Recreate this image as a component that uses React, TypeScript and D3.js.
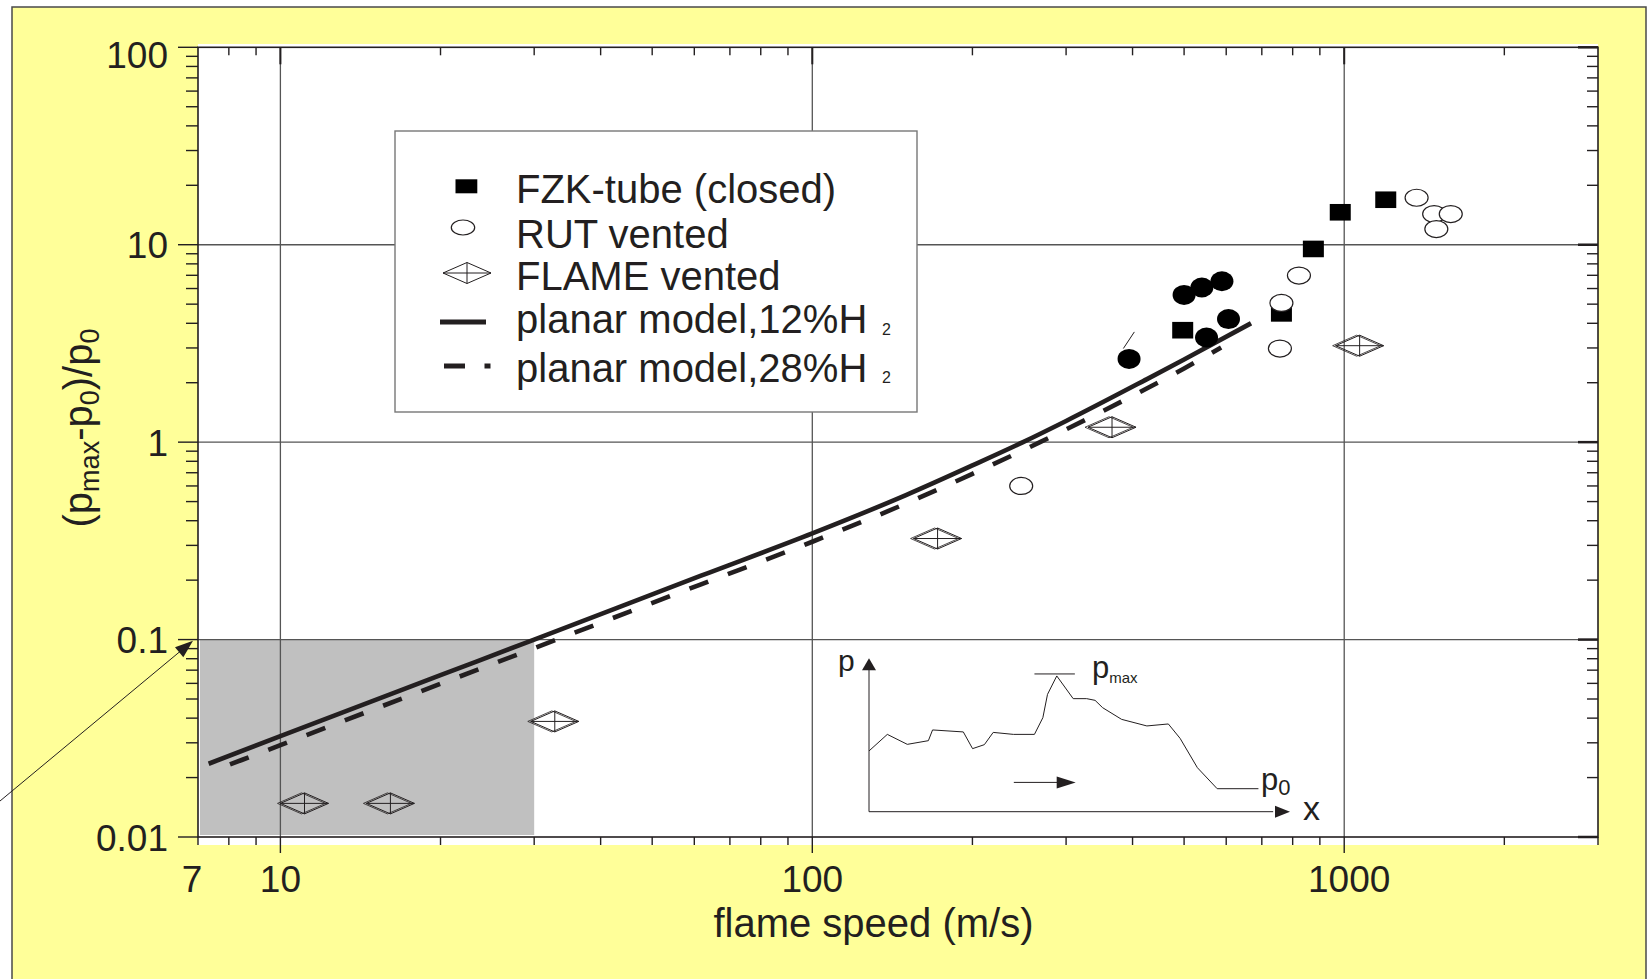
import React from 'react';
import * as d3 from 'd3';

// FZK-tube (closed), filled squares
const fzkSpeed = [497, 762, 875, 983, 1197];
const fzkPressure = [3.69, 4.49, 9.52, 14.6, 16.9];

// filled ellipses (not in the legend)
const solidDotSpeed = [394, 500, 540, 589, 606, 551];
const solidDotPressure = [2.64, 5.57, 6.07, 6.53, 4.2, 3.39];

// RUT vented, open circles
const rutSpeed = [247, 757, 762, 822, 1368, 1476, 1586, 1490];
const rutPressure = [0.6, 2.98, 5.07, 6.98, 17.3, 14.3, 14.3, 12.0];

// FLAME vented, diamonds
const flameSpeed = [11.1, 16.1, 32.8, 172, 366, 1069];
const flamePressure = [0.0148, 0.0148, 0.0385, 0.325, 1.19, 3.08];

// planar model curves
const model12Speed = [7.33, 10, 20, 30, 61.6, 100, 150, 200, 249, 300, 425, 500, 668];
const model12Pressure = [0.0235, 0.0324, 0.066, 0.1, 0.21, 0.345, 0.539, 0.762, 1.0, 1.28, 2.08, 2.62, 4.0];
const model28Speed = [8.04, 10, 20, 30, 61.6, 100, 150, 200, 268, 400, 500, 587];
const model28Pressure = [0.0233, 0.0292, 0.0597, 0.0905, 0.19, 0.313, 0.489, 0.691, 1.0, 1.716, 2.36, 3.02];

// shaded region
const shadeSpeed = [7, 30];
const shadePressure = [0.01, 0.1];

// tick labels
const xTickLabels = [7, 10, 100, 1000];
const yTickLabels = ['0.01', '0.1', '1', '10', '100'];

// inset sketch of a pressure trace (relative units 0..100)
const traceX = [0, 4.35, 9.1, 14.1, 15.1, 22.4, 24.6, 27.4, 29.5, 34.3, 39.3, 41.3, 42.4, 44.6, 48.5, 51.7, 53.7, 55.5, 60.0, 66.0, 71.1, 73.9, 78.0, 82.7, 92.5];
const traceY = [39.6, 50.4, 43.9, 46.3, 53.3, 52.0, 41.1, 43.7, 51.7, 50.4, 50.4, 61.3, 76.5, 88.5, 73.7, 73.7, 72.6, 67.8, 60.2, 55.9, 57.2, 47.8, 28.7, 15.0, 15.0];

const FONT = '"Liberation Sans", Arial, Helvetica, sans-serif';
const INK = '#231f20';

const Diamond = ({ cx, cy, ghost }: { cx: number; cy: number; ghost?: boolean }) => {
  const w = 24;
  const h = 10.5;
  const pts = (dx: number) => `${cx - w + dx},${cy} ${cx + dx},${cy - h} ${cx + w + dx},${cy} ${cx + dx},${cy + h}`;
  return (
    <g fill="none" stroke={INK} strokeWidth={1}>
      {ghost && <polygon points={pts(-3)} strokeWidth={0.8} />}
      <polygon points={pts(0)} />
      <line x1={cx - w} x2={cx + w} y1={cy} y2={cy} />
      <line x1={cx} x2={cx} y1={cy - h} y2={cy + h} />
    </g>
  );
};

const arrowHead = (x1: number, y1: number, x2: number, y2: number, len: number, half: number) => {
  const a = Math.atan2(y2 - y1, x2 - x1);
  const bx = x2 - len * Math.cos(a);
  const by = y2 - len * Math.sin(a);
  const px = -Math.sin(a) * half;
  const py = Math.cos(a) * half;
  return `${x2},${y2} ${bx + px},${by + py} ${bx - px},${by - py}`;
};

export default function App() {
  const x = d3.scaleLog().domain([7, 3000]).range([198, 1598]);
  const y = d3.scaleLog().domain([0.01, 100]).range([837, 47.3]);

  const isDecade = (v: number) => Math.abs(Math.log10(v) - Math.round(Math.log10(v))) < 1e-9;
  const xTicks = x.ticks();
  const yTicks = y.ticks();

  const line = d3
    .line<[number, number]>()
    .x((d) => x(d[0]))
    .y((d) => y(d[1]))
    .curve(d3.curveMonotoneX);
  const m12 = line(model12Speed.map((s, i) => [s, model12Pressure[i]]));
  const m28 = line(model28Speed.map((s, i) => [s, model28Pressure[i]]));

  // inset scales
  const ix = d3.scaleLinear().domain([0, 100]).range([869, 1290]);
  const iy = d3.scaleLinear().domain([0, 100]).range([811.7, 658.3]);
  const trace = d3
    .line<number>()
    .x((d) => ix(d))
    .y((_, i) => iy(traceY[i]))(traceX);

  const [L, R] = x.range();
  const [B, T] = y.range();

  return (
    <div style={{ position: 'absolute', left: 0, top: 0 }}>
      <svg width={1649} height={979} style={{ display: 'block', fontFamily: FONT }}>
        <rect x={0} y={0} width={1649} height={979} fill="white" />
        <rect x={12} y={7} width={1634} height={995} fill="#ffff99" stroke="#4a4a4a" strokeWidth={1.5} />
        <rect x={L} y={44} width={R - L} height={845 - 44} fill="white" />

        {/* shaded area */}
        <rect
          x={x(shadeSpeed[0]) + 2}
          y={y(shadePressure[1])}
          width={x(shadeSpeed[1]) - x(shadeSpeed[0]) - 2}
          height={y(shadePressure[0]) - y(shadePressure[1]) - 2}
          fill="#c0c0c0"
        />

        {/* grid */}
        <g stroke="#555" strokeWidth={1.3}>
          {xTicks.filter(isDecade).map((v) => (
            <line key={'gx' + v} x1={x(v)} x2={x(v)} y1={T} y2={B} />
          ))}
          {yTicks.filter((v) => isDecade(v) && v > 0.011 && v < 99).map((v) => (
            <line key={'gy' + v} x1={L} x2={R} y1={y(v)} y2={y(v)} />
          ))}
        </g>

        {/* axes frame */}
        <rect x={L} y={T} width={R - L} height={B - T} fill="none" stroke={INK} strokeWidth={1.6} />

        {/* ticks */}
        <g stroke={INK} strokeWidth={1.4}>
          {yTicks.map((v) => {
            const maj = isDecade(v);
            return (
              <g key={'ty' + v}>
                <line x1={L - (maj ? 20 : 12)} x2={L} y1={y(v)} y2={y(v)} />
                <line x1={R - (maj ? 20 : 11)} x2={R} y1={y(v)} y2={y(v)} strokeWidth={maj ? 2.5 : 1.4} />
              </g>
            );
          })}
          {xTicks.map((v) => {
            const maj = isDecade(v);
            return (
              <g key={'tx' + v}>
                <line x1={x(v)} x2={x(v)} y1={B} y2={B + (maj ? 16 : 8)} />
                {v > 7 && v < 3000 && <line x1={x(v)} x2={x(v)} y1={T} y2={T + (maj ? 17 : 8)} strokeWidth={maj ? 2 : 1.4} />}
              </g>
            );
          })}
        </g>

        {/* tick labels */}
        <g fill={INK} fontSize={37}>
          {yTickLabels.map((t, i) => (
            <text key={'ly' + t} x={168} y={y(+t) + 13.5 + (i === yTickLabels.length - 1 ? 7 : 0)} textAnchor="end">
              {t}
            </text>
          ))}
          {xTickLabels.map((v) => (
            <text key={'lx' + v} x={x(v) + (v === 7 ? -6 : v === 1000 ? 5 : 0)} y={891.5} textAnchor="middle">
              {v}
            </text>
          ))}
        </g>

        {/* axis titles */}
        <text x={873.5} y={936.7} textAnchor="middle" fontSize={40} fill={INK}>
          flame speed (m/s)
        </text>
        <text transform="translate(92,428) rotate(-90)" textAnchor="middle" fontSize={40} fill={INK}>
          (p<tspan fontSize={27} dy={7}>max</tspan>
          <tspan dy={-7}>-p</tspan>
          <tspan fontSize={27} dy={7}>0</tspan>
          <tspan dy={-7}>)/p</tspan>
          <tspan fontSize={27} dy={7}>0</tspan>
        </text>

        {/* arrow pointing at 0.1 */}
        <line x1={0} y1={801} x2={186} y2={646.5} stroke={INK} strokeWidth={1} />
        <polygon points={arrowHead(0, 801, 193, 640.7, 18, 6.5)} fill={INK} />

        {/* inset sketch */}
        <g stroke={INK} fill="none" strokeWidth={1}>
          <line x1={ix(0)} x2={ix(0)} y1={iy(0)} y2={iy(97)} />
          <line x1={ix(0)} x2={ix(96)} y1={iy(0)} y2={iy(0)} />
          <path d={trace ?? ''} />
          <line x1={ix(39.3)} x2={ix(48.9)} y1={iy(89.8)} y2={iy(89.8)} />
          <line x1={ix(34.4)} x2={ix(45)} y1={iy(19.1)} y2={iy(19.1)} />
        </g>
        <g fill={INK}>
          <polygon points={arrowHead(ix(0), iy(0), ix(0), iy(100), 12, 7)} />
          <polygon points={arrowHead(ix(0), iy(0), ix(100), iy(0), 15, 6)} />
          <polygon points={arrowHead(ix(34.4), iy(19.1), ix(49.1), iy(19.1), 19, 6)} />
        </g>
        <g fill={INK}>
          <text x={838} y={671} fontSize={30}>p</text>
          <text x={1303} y={820} fontSize={34}>x</text>
          <text x={1092} y={677.5} fontSize={31}>
            p<tspan fontSize={15} dy={5}>max</tspan>
          </text>
          <text x={1261} y={789.5} fontSize={31}>
            p<tspan fontSize={22} dy={5}>0</tspan>
          </text>
        </g>

        {/* model curves */}
        <path d={m12 ?? ''} fill="none" stroke={INK} strokeWidth={4.6} />
        <path d={m28 ?? ''} fill="none" stroke={INK} strokeWidth={4.6} strokeDasharray="20 21" />

        {/* FLAME vented */}
        {flameSpeed.map((s, i) => (
          <Diamond key={'fl' + i} cx={x(s)} cy={y(flamePressure[i])} ghost />
        ))}

        {/* FZK squares */}
        {fzkSpeed.map((s, i) => (
          <rect key={'fz' + i} x={x(s) - 10.5} y={y(fzkPressure[i]) - 8.3} width={21} height={16.6} fill="black" />
        ))}

        {/* filled ellipses */}
        {solidDotSpeed.map((s, i) => (
          <ellipse key={'sd' + i} cx={x(s)} cy={y(solidDotPressure[i])} rx={11.5} ry={10} fill="black" />
        ))}
        <line
          x1={x(solidDotSpeed[0]) - 5.7}
          y1={y(solidDotPressure[0]) - 10.4}
          x2={x(solidDotSpeed[0]) + 5.3}
          y2={y(solidDotPressure[0]) - 27}
          stroke={INK}
          strokeWidth={1}
        />

        {/* RUT open circles */}
        {rutSpeed.map((s, i) => (
          <ellipse key={'ru' + i} cx={x(s)} cy={y(rutPressure[i])} rx={11.5} ry={8.5} fill="white" stroke={INK} strokeWidth={1.2} />
        ))}

        {/* legend */}
        <g>
          <rect x={395} y={131} width={522} height={281} fill="white" stroke="#777" strokeWidth={1.4} />
          <rect x={455.5} y={179.3} width={21.8} height={14} fill="black" />
          <ellipse cx={463} cy={227.5} rx={11.7} ry={7.5} fill="white" stroke={INK} strokeWidth={1.2} />
          <Diamond cx={467} cy={273} />
          <line x1={440} x2={486} y1={322} y2={322} stroke={INK} strokeWidth={5} />
          <line x1={444} x2={465} y1={366} y2={366} stroke={INK} strokeWidth={5} />
          <rect x={484.5} y={363.5} width={6} height={5} fill={INK} />
          <g fill={INK} fontSize={40}>
            <text x={516} y={203.3}>FZK-tube (closed)</text>
            <text x={516} y={247.7}>RUT vented</text>
            <text x={516} y={290}>FLAME vented</text>
            <text x={516} y={333.3}>planar model,12%H</text>
            <text x={516} y={381.7}>planar model,28%H</text>
            <text x={882} y={334.5} fontSize={16}>2</text>
            <text x={882} y={382.5} fontSize={16}>2</text>
          </g>
        </g>
      </svg>
    </div>
  );
}
